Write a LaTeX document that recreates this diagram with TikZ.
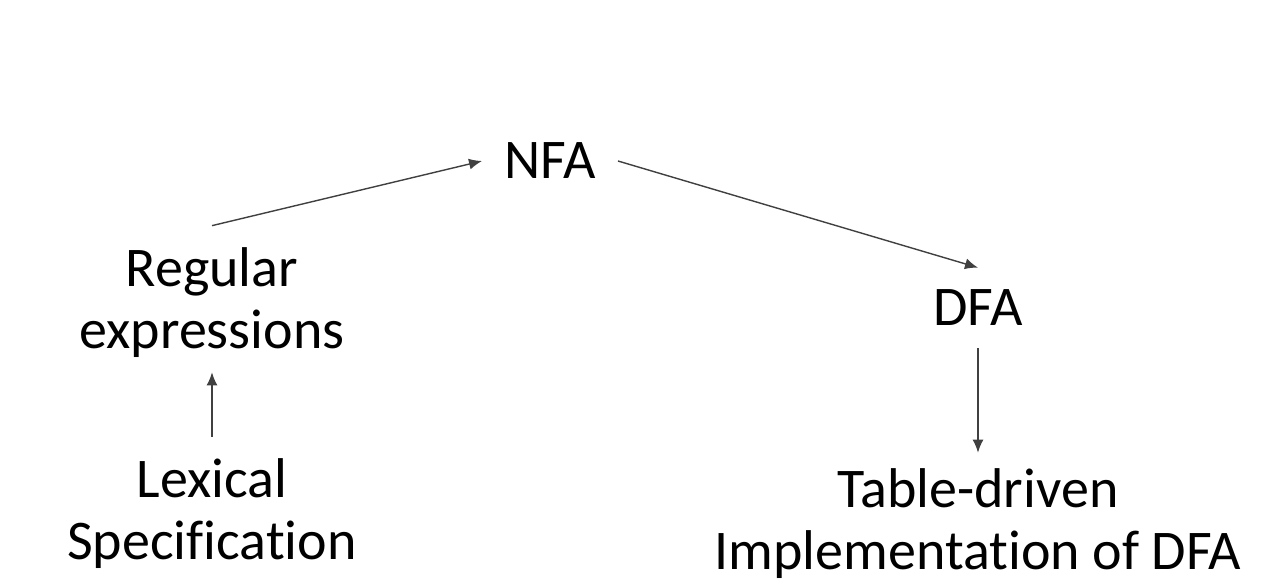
\documentclass[tikz,border=0pt]{standalone}
\usepackage{fontspec}
\setmainfont[Ligatures=NoCommon]{Carlito}
\usetikzlibrary{arrows.meta}
\tikzset{
    %Define standard arrow tip
    >={Latex[length=6.5pt,width=5.5pt]},
    %Define style for the stages
    stage/.style={
           align=center,
           inner sep=11pt,
           font=\fontsize{28}{31}\selectfont},
    % Define arrow style
    pil/.style={
           ->,
           draw=black!75,
           line width=0.7pt}
}
\begin{document}
\begin{tikzpicture}[x=0.5pt,y=-0.5pt]
\useasboundingbox (0,0) rectangle (1265,583);
\node[stage] (nfa) at (550,161) {NFA};
\node[stage] (reg) at (212,303) {Regular\\expressions};
\node[stage] (lex) at (212,514) {Lexical\\Specification};
\node[stage] (dfa) at (978,308) {DFA};
\node[stage] (table) at (978,524) {Table-driven\\Implementation of DFA};

\draw[pil] (reg.north) -- (nfa.west);
\draw[pil] (nfa.east) -- (dfa.north);
\draw[pil, shorten >=-4pt] (lex.north) -- (reg.south);
\draw[pil, shorten >=-3pt] (dfa.south) -- (table.north);
\end{tikzpicture}
\end{document}
